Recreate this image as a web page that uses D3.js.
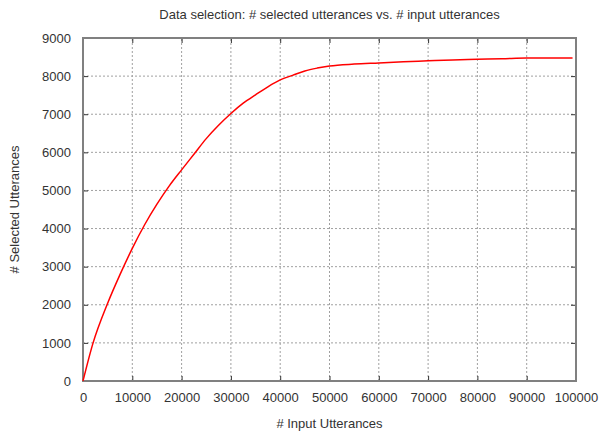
<!DOCTYPE html>
<html>
<head>
<meta charset="utf-8">
<script src="https://cdn.jsdelivr.net/npm/d3@7"></script>
<style>
  body { margin: 0; background: #fff; }
  text { font-family: "Liberation Sans", Arial, sans-serif; fill: #333; }
</style>
</head>
<body>
<div id="chart"></div>
<script>
// Values
const inputUtterances = [0, 2000, 5000, 7500, 10000, 12500, 15000, 17500, 20000, 22500, 25000,
  27500, 30000, 32500, 35000, 37500, 40000, 42500, 45000, 47500, 50000,
  55000, 60000, 65000, 70000, 75000, 80000, 85000, 90000, 99300];
const selectedUtterances = [0, 980, 2040, 2790, 3480, 4100, 4640, 5120, 5540, 5950, 6360,
  6710, 7020, 7290, 7510, 7720, 7900, 8020, 8135, 8210, 8265,
  8315, 8345, 8375, 8400, 8425, 8440, 8455, 8475, 8478];
const xTicks = d3.range(0, 100001, 10000);
const yTicks = d3.range(0, 9001, 1000);

const width = 600, height = 434;
const margin = { top: 38, right: 24, bottom: 53, left: 83 };

const svg = d3.select("#chart").append("svg")
  .attr("width", width)
  .attr("height", height);

const x = d3.scaleLinear().domain([0, 100000]).range([margin.left, width - margin.right]);
const y = d3.scaleLinear().domain([0, 9000]).range([height - margin.bottom, margin.top]);

// Grid lines (dotted)
svg.append("g")
  .selectAll("line")
  .data(xTicks.slice(1, -1))
  .join("line")
  .attr("x1", d => x(d)).attr("x2", d => x(d))
  .attr("y1", y(0)).attr("y2", y(9000))
  .attr("stroke", "#a0a0a0")
  .attr("stroke-dasharray", "2,2");

svg.append("g")
  .selectAll("line")
  .data(yTicks.slice(1, -1))
  .join("line")
  .attr("x1", x(0)).attr("x2", x(100000))
  .attr("y1", d => y(d)).attr("y2", d => y(d))
  .attr("stroke", "#a0a0a0")
  .attr("stroke-dasharray", "2,2");

// Axes: labels outside, ticks inside (gnuplot style, mirrored)
const xAxis = svg.append("g")
  .attr("transform", `translate(0,${y(0)})`)
  .call(d3.axisBottom(x).tickValues(xTicks).tickSize(-5).tickPadding(12).tickFormat(d3.format("d")));
const xAxisTop = svg.append("g")
  .attr("transform", `translate(0,${y(9000)})`)
  .call(d3.axisTop(x).tickValues(xTicks).tickSize(-5).tickFormat(""));
const yAxis = svg.append("g")
  .attr("transform", `translate(${x(0)},0)`)
  .call(d3.axisLeft(y).tickValues(yTicks).tickSize(-5).tickPadding(12).tickFormat(d3.format("d")));
const yAxisRight = svg.append("g")
  .attr("transform", `translate(${x(100000)},0)`)
  .call(d3.axisRight(y).tickValues(yTicks).tickSize(-5).tickFormat(""));

[xAxis, xAxisTop, yAxis, yAxisRight].forEach(g => {
  g.select(".domain").remove();
  g.selectAll(".tick line").attr("stroke", "#333");
  g.selectAll(".tick text")
    .attr("font-size", 13)
    .attr("font-family", "Liberation Sans, Arial, sans-serif")
    .attr("fill", "#333");
});

// Border
svg.append("rect")
  .attr("x", x(0))
  .attr("y", y(9000))
  .attr("width", x(100000) - x(0))
  .attr("height", y(0) - y(9000))
  .attr("fill", "none")
  .attr("stroke", "#808080")
  .attr("stroke-width", 2);

// Data line
const line = d3.line()
  .x((d, i) => x(inputUtterances[i]))
  .y(d => y(d))
  .curve(d3.curveMonotoneX);

svg.append("path")
  .datum(selectedUtterances)
  .attr("d", line)
  .attr("fill", "none")
  .attr("stroke", "#ff0000")
  .attr("stroke-width", 1.5);

// Titles
const cx = (x(0) + x(100000)) / 2;
svg.append("text")
  .attr("x", cx)
  .attr("y", 19)
  .attr("text-anchor", "middle")
  .attr("font-size", 13)
  .text("Data selection: # selected utterances vs. # input utterances");

svg.append("text")
  .attr("x", cx)
  .attr("y", 428)
  .attr("text-anchor", "middle")
  .attr("font-size", 13)
  .text("# Input Utterances");

svg.append("text")
  .attr("transform", `translate(19,${(y(0) + y(9000)) / 2}) rotate(-90)`)
  .attr("text-anchor", "middle")
  .attr("font-size", 13)
  .text("# Selected Utterances");
</script>
</body>
</html>
